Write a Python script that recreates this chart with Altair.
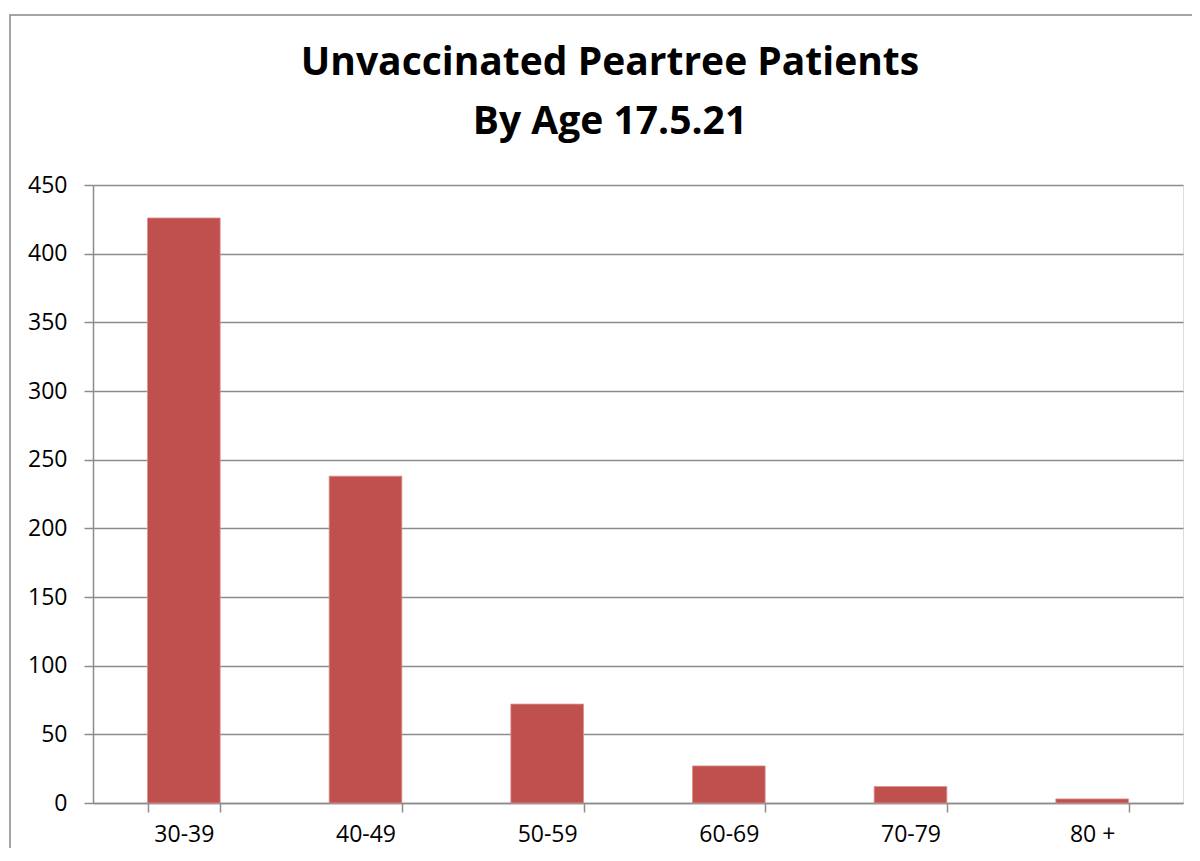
import altair as alt
import pandas as pd

age_groups = ["30-39", "40-49", "50-59", "60-69", "70-79", "80 +"]
patients = [426, 238, 72, 27, 12, 3]
title_lines = ["Unvaccinated Peartree Patients", "By Age 17.5.21"]
y_ticks = [0, 50, 100, 150, 200, 250, 300, 350, 400, 450]

df = pd.DataFrame({"age": age_groups, "count": patients})

FONT = "Open Sans"
GREY = "#8c8c8c"

bars = alt.Chart(df).mark_bar(color="#C0504D", stroke="#D9928F", strokeWidth=0.8).encode(
    x=alt.X("age:N", sort=age_groups, title=None,
            scale=alt.Scale(paddingInner=0.6, paddingOuter=0.3),
            axis=alt.Axis(labelAngle=0, labelFont=FONT, labelFontSize=23, labelColor="black",
                          domainColor=GREY, domainWidth=1.5, tickColor=GREY, tickWidth=1.5,
                          tickSize=9, tickBand="extent", labelPadding=11, grid=False)),
    y=alt.Y("count:Q", title=None,
            scale=alt.Scale(domain=[0, 450], nice=False),
            axis=alt.Axis(values=y_ticks, labelFont=FONT, labelFontSize=23, labelColor="black",
                          domainColor=GREY, domainWidth=1.5, tickColor=GREY, tickWidth=1.5,
                          tickSize=9, labelPadding=17, grid=True, gridColor=GREY, gridWidth=1.5)),
)

frame = alt.Chart(pd.DataFrame({"k": [0]})).mark_rect(
    fill=None, stroke="#878787", strokeWidth=1.5
).encode(x=alt.value(-83), x2=alt.value(1300), y=alt.value(-170), y2=alt.value(900))

chart = alt.layer(frame, bars).properties(
    width=1090, height=618,
    title=alt.TitleParams(text=title_lines, font=FONT, fontSize=39, fontWeight="bold",
                          color="black", anchor="middle", dx=-28, offset=-159,
                          baseline="alphabetic", lineHeight=59),
    padding={"left": 85, "top": 177, "right": 9, "bottom": 45},
    autosize=alt.AutoSizeParams(type="none"),
).configure_view(stroke=None).configure(background="white")

chart.save("out.html", embed_options={"renderer": "svg", "actions": False})
